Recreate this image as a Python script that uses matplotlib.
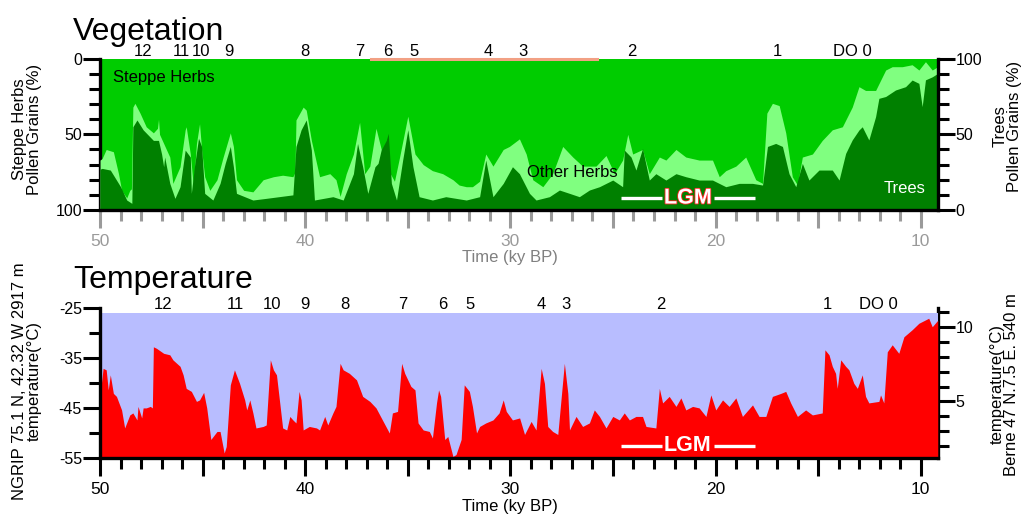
import matplotlib
matplotlib.use("Agg")
import matplotlib.pyplot as plt
import matplotlib.patheffects as pe
from matplotlib.ticker import MultipleLocator, FuncFormatter, FixedLocator

plt.rcParams["font.family"] = ["Liberation Sans", "DejaVu Sans"]

# ---- vegetation (pollen %), time in ky BP ----
tree_time = [50.0, 49.9, 49.5, 49.3, 49.0, 48.7, 48.45, 48.4, 48.2, 47.9, 47.4, 47.15, 47.0, 46.9,
             46.85, 46.6, 46.35, 46.1, 45.85, 45.6, 45.55, 45.4, 45.2, 45.05, 44.9, 44.5, 44.15,
             43.9, 43.65, 43.5, 43.35, 42.55, 41.9, 40.6, 40.45, 40.2, 39.95, 39.7, 39.55, 38.65,
             38.15, 37.65, 37.45, 37.2, 36.95, 36.6, 36.45, 36.3, 36.05, 35.95, 35.8, 35.55, 35.25,
             35.0, 34.75, 34.45, 33.8, 33.15, 32.15, 31.5, 31.2, 30.85, 30.35, 29.9, 29.56, 29.07,
             28.75, 28.1, 27.61, 27.12, 26.64, 26.15, 25.66, 25.01, 24.53, 24.45, 24.12, 23.88,
             23.56, 23.23, 22.91, 22.42, 21.93, 21.45, 20.8, 20.15, 19.5, 18.85, 18.2, 17.71, 17.47,
             17.07, 16.74, 16.42, 16.09, 15.77, 15.45, 14.96, 14.31, 13.98, 13.66, 13.34, 13.01,
             12.85, 12.53, 12.2, 12.04, 11.71, 11.23, 10.74, 10.42, 10.09, 9.93, 9.77, 9.44, 9.17]
tree_pct = [27, 27.5, 26.4, 22, 15.4, 6.6, 4.4, 55, 59.5, 53, 46, 46, 37, 28.6,
            35, 17.6, 7.7, 15.4, 39.6, 35, 11, 28.6, 47.4, 42, 11, 6.6, 17.6,
            30.8, 42, 28.6, 11, 6.6, 7.7, 10, 42, 53, 59.5, 39.6, 6.6, 8.8,
            6.6, 24, 44, 28.6, 11, 28.6, 30.8, 39.6, 46, 50.7, 17.6, 6.6, 33,
            53, 28.6, 8.8, 6.6, 8.8, 6.6, 8.8, 33, 8.8, 17.6, 28.6, 24, 11,
            6.6, 8.8, 13.2, 11, 8.8, 13.2, 15.4, 19.8, 15.4, 39.6, 35, 26.4,
            40.7, 19.8, 24, 19.8, 24, 22, 19.8, 19.8, 15.4, 17.6, 17.6, 16.5, 42,
            44, 42, 24, 15.4, 30.8, 19.8, 26.4, 26.4, 19.8, 37.4, 46.3, 52.9,
            55, 46.3, 61.7, 73.8, 75, 79.3, 81.5, 85.9, 83.7, 68.3, 86, 88, 90.3]

# trees + other herbs (upper edge of the light band)
herb_time = [50.0, 49.9, 49.7, 49.35, 49.1, 48.95, 48.7, 48.55, 48.47, 48.4, 48.3, 48.05, 47.75,
             47.4, 47.2, 47.15, 47.1, 46.9, 46.6, 46.45, 46.1, 45.85, 45.8, 45.6, 45.45, 45.3,
             45.15, 45.05, 44.9, 44.65, 44.3, 44.0, 43.65, 43.5, 43.35, 43.0, 42.55, 42.05, 41.55,
             41.1, 40.6, 40.5, 40.45, 40.1, 39.95, 39.7, 39.3, 38.8, 38.5, 38.3, 38.0, 37.65,
             37.35, 37.1, 36.85, 36.55, 36.2, 36.05, 35.65, 35.4, 35.0, 34.65, 34.25, 33.8, 33.3,
             32.8, 32.5, 32.15, 31.85, 31.5, 31.2, 30.85, 30.35, 30.05, 29.56, 29.23, 28.91,
             28.42, 27.94, 27.45, 26.96, 26.48, 25.83, 25.34, 24.93, 24.53, 24.28, 24.04, 23.56,
             23.23, 22.74, 22.42, 21.93, 21.45, 20.8, 20.15, 19.82, 19.5, 19.01, 18.53, 18.04,
             17.71, 17.5, 17.23, 16.9, 16.58, 16.26, 16.01, 15.77, 15.28, 14.8, 14.31, 13.82,
             13.34, 13.01, 12.69, 12.2, 11.71, 11.39, 10.9, 10.42, 10.09, 9.77, 9.44, 9.17]
herb_top = [33, 34, 40, 38.5, 24, 13, 8, 13, 14, 68, 70.5, 64, 55,
            51, 54, 60, 50, 44, 35, 17.6, 28.6, 53, 55, 37, 15.4, 44,
            57, 40, 22, 13, 20, 35, 51, 42, 20, 13, 12, 20, 22,
            23, 22, 25, 59.5, 68, 66, 46, 22, 24, 20, 9, 24, 37,
            58, 24, 29, 54, 35, 29, 19, 35, 62, 37, 30, 26, 24,
            20, 16.5, 15.4, 15.4, 19, 37, 29, 40, 42, 47, 37, 20,
            15.4, 24, 42, 35, 29, 29, 36, 24, 33, 50, 37, 40,
            24, 35, 33, 40, 35, 33, 33, 22, 26, 29, 35, 20,
            17.6, 64, 70.5, 69, 51, 22, 16.5, 35, 37, 46, 53, 55,
            68, 81.5, 79, 79, 92.5, 94.7, 94.7, 96, 92.5, 98, 92.5, 94.7]

# ---- NGRIP temperature (deg C) ----
temp_time = [50.0, 49.95, 49.85, 49.7, 49.6, 49.5, 49.35, 49.2, 48.95, 48.8, 48.55, 48.4, 48.2,
             48.15, 47.97, 47.9, 47.75, 47.55, 47.45, 47.4, 47.25, 46.9, 46.6, 46.45, 46.1, 45.95,
             45.8, 45.55, 45.3, 45.15, 44.95, 44.8, 44.6, 44.3, 44.15, 43.95, 43.85, 43.65, 43.45,
             43.2, 42.95, 42.85, 42.7, 42.55, 42.4, 42.05, 41.9, 41.7, 41.55, 41.4, 41.25, 41.1,
             40.9, 40.75, 40.6, 40.45, 40.3, 40.2, 40.1, 39.8, 39.45, 39.3, 39.05, 38.9, 38.65,
             38.5, 38.3, 38.15, 37.85, 37.5, 37.2, 36.85, 36.55, 36.2, 35.9, 35.75, 35.5, 35.3,
             35.15, 34.85, 34.65, 34.5, 34.25, 33.95, 33.8, 33.6, 33.5, 33.4, 33.2, 33.05, 32.8,
             32.65, 32.4, 32.25, 32.0, 31.85, 31.65, 31.5, 31.2, 30.85, 30.55, 30.35, 30.2, 29.9,
             29.55, 29.31, 28.99, 28.75, 28.5, 28.34, 28.18, 27.94, 27.69, 27.37, 27.2, 27.12,
             26.8, 26.48, 26.15, 25.91, 25.66, 25.34, 25.01, 24.69, 24.45, 24.2, 23.88, 23.56,
             23.39, 22.91, 22.74, 22.58, 22.26, 21.93, 21.69, 21.45, 21.12, 20.8, 20.47, 20.23,
             19.99, 19.66, 19.34, 19.01, 18.69, 18.2, 17.88, 17.55, 17.23, 16.82, 16.58, 16.34,
             16.01, 15.61, 15.28, 14.8, 14.67, 14.47, 14.31, 14.15, 14.07, 13.9, 13.66, 13.5,
             13.26, 13.09, 12.85, 12.69, 12.53, 12.04, 11.96, 11.8, 11.63, 11.39, 11.07, 10.82,
             10.42, 10.09, 9.61, 9.44, 9.17]
temp_ngrip = [-41.0, -40.7, -37.1, -37.4, -41.4, -38.4, -42.1, -42.7, -45.4, -49.0, -46.4, -46.0, -47.4,
              -44.7, -47.0, -45.0, -45.0, -44.7, -45.0, -32.8, -33.1, -34.1, -34.4, -35.4, -36.7, -38.4,
              -41.1, -41.7, -43.7, -43.4, -41.9, -45.0, -51.3, -49.7, -49.7, -54.0, -52.7, -40.4, -37.4,
              -40.1, -43.4, -45.4, -43.4, -46.0, -49.0, -48.7, -48.4, -35.4, -37.4, -38.4, -43.7, -49.0,
              -49.4, -46.7, -47.4, -48.0, -41.7, -43.4, -49.4, -48.7, -49.0, -49.4, -46.7, -48.4, -46.0,
              -44.7, -36.1, -37.4, -38.1, -39.4, -42.7, -43.7, -45.0, -47.7, -50.0, -46.0, -45.7, -36.1,
              -38.1, -40.7, -41.4, -48.0, -49.4, -49.7, -51.0, -44.0, -41.4, -42.7, -51.3, -50.7, -54.7,
              -54.3, -51.3, -40.4, -41.7, -44.7, -50.0, -48.7, -48.0, -47.4, -46.0, -43.4, -45.7, -47.4,
              -47.0, -50.3, -47.7, -49.4, -37.1, -40.1, -48.7, -49.7, -50.3, -36.1, -42.1, -49.4,
              -46.7, -48.7, -48.0, -45.4, -46.7, -49.0, -46.7, -47.4, -46.0, -47.4, -46.7, -46.7,
              -48.7, -49.0, -41.1, -44.0, -42.7, -44.7, -43.0, -45.4, -44.7, -45.0, -46.7, -42.4,
              -45.4, -43.4, -44.7, -43.0, -46.7, -44.4, -46.7, -46.7, -42.7, -42.1, -41.7, -44.0,
              -46.7, -45.4, -46.4, -46.0, -33.4, -34.4, -36.7, -38.1, -41.1, -35.4, -36.7, -37.4,
              -40.1, -41.1, -38.4, -42.7, -44.0, -43.7, -42.4, -44.0, -33.8, -32.4, -34.1, -30.8,
              -29.4, -28.1, -27.1, -28.8, -27.5]

# Dansgaard-Oeschger event labels
do_labels = ["12", "11", "10", "9", "8", "7", "6", "5", "4", "3", "2", "1", "DO 0"]
do_veg_time = [47.9, 46.05, 45.1, 43.7, 40.0, 37.35, 36.0, 34.7, 31.1, 29.4, 24.1, 17.0, 13.35]
do_temp_time = [46.93, 43.38, 41.63, 40.02, 38.08, 35.26, 33.3, 31.95, 28.5, 27.3, 22.65, 14.53, 12.05]

ngrip_ticks = [-55, -45, -35, -25]

lgm_start, lgm_end = 24.6, 18.1
x_right = 9.17

GREY_TICK = "#9a9a9a"
GREY_LABEL = "#808080"


def ten_only(v, pos):
    return "%d" % v if abs(v % 10) < 1e-6 else ""


def style_x(ax, color):
    ax.set_xlim(50, x_right)
    ax.xaxis.set_major_locator(MultipleLocator(5))
    ax.xaxis.set_minor_locator(MultipleLocator(1))
    ax.xaxis.set_major_formatter(FuncFormatter(ten_only))
    ax.tick_params(axis="x", which="major", length=13, width=2.2, color=color,
                   labelcolor=color, labelsize=12.5, pad=4, direction="out")
    ax.tick_params(axis="x", which="minor", length=8, width=2.2, color=color, direction="out")
    ax.spines["top"].set_visible(False)
    ax.spines["bottom"].set_linewidth(2.4)


def style_y(axis_obj, which_side):
    axis_obj.tick_params(axis="y", which="major", length=12, width=2.2, labelsize=11.5,
                         pad=1, direction="out")
    axis_obj.tick_params(axis="y", which="minor", length=8, width=2.2, direction="out")
    axis_obj.spines[which_side].set_linewidth(2.4)


def lgm_marker(ax, y, outline):
    ax.plot([lgm_start, 22.6], [y, y], color="white", lw=2.4, solid_capstyle="butt")
    ax.plot([20.1, lgm_end], [y, y], color="white", lw=2.4, solid_capstyle="butt")
    txt = ax.text((lgm_start + lgm_end) / 2, y, "LGM", color="white", fontsize=15.5,
                  fontweight="bold", ha="center", va="center")
    if outline:
        txt.set_path_effects([pe.withStroke(linewidth=1.2, foreground="#ff2020")])


fig = plt.figure(figsize=(10.26, 5.17), dpi=100)

# ------------------------------------------------------------ vegetation
ax_v = fig.add_axes([0.0975, 0.5938, 0.8165, 0.2927])
ax_v.set_facecolor("#00CC00")
ax_v.fill_between(herb_time, 0, herb_top, color="#80FF80", lw=0)
ax_v.fill_between(tree_time, 0, tree_pct, color="#008000", lw=0)
ax_v.set_ylim(0, 100)
style_x(ax_v, GREY_TICK)
ax_v.yaxis.tick_right()
ax_v.yaxis.set_major_locator(MultipleLocator(50))
ax_v.yaxis.set_minor_locator(MultipleLocator(10))
style_y(ax_v, "right")
ax_v.spines["left"].set_visible(False)

steppe = ax_v.secondary_yaxis("left", functions=(lambda p: 100 - p, lambda s: 100 - s))
steppe.yaxis.set_major_locator(MultipleLocator(50))
steppe.yaxis.set_minor_locator(MultipleLocator(10))
style_y(steppe, "left")

ax_v.plot([36.8, 25.8], [100, 100], color="#F2A084", lw=2.2, clip_on=False, zorder=5)

ax_v.text(49.37, 87.6, "Steppe Herbs", fontsize=12, va="center", ha="left")
ax_v.text(29.2, 24.5, "Other Herbs", fontsize=12, va="center", ha="left")
ax_v.text(11.8, 14.5, "Trees", fontsize=12, color="white", va="center", ha="left")
lgm_marker(ax_v, 7.9, True)

for lab, t in zip(do_labels, do_veg_time):
    ax_v.text(t, 1.018, lab, fontsize=12, ha="center", va="baseline",
              transform=ax_v.get_xaxis_transform())

ax_v.text(30.0, -0.317, "Time (ky BP)", fontsize=12, color=GREY_LABEL, ha="center",
          va="center", transform=ax_v.get_xaxis_transform())

# ------------------------------------------------------------ temperature
ax_t = fig.add_axes([0.0975, 0.1141, 0.8165, 0.2907])
ax_t.axhspan(-55, -26.1, color="#B8BDFF", lw=0)
ax_t.fill_between(temp_time, -55, temp_ngrip, color="#FF0000", lw=0)
ax_t.set_ylim(-55, -25)
style_x(ax_t, "black")
ax_t.yaxis.set_major_locator(FixedLocator(ngrip_ticks))
ax_t.yaxis.set_minor_locator(MultipleLocator(5))
ax_t.yaxis.set_major_formatter(FuncFormatter(lambda v, p: "%d" % v))
style_y(ax_t, "left")
ax_t.spines["right"].set_visible(False)

slope, offset = 0.335, 19.645
berne = ax_t.secondary_yaxis("right", functions=(lambda t: slope * t + offset,
                                                 lambda b: (b - offset) / slope))
berne.yaxis.set_major_locator(MultipleLocator(5))
berne.yaxis.set_minor_locator(MultipleLocator(1))
style_y(berne, "right")

lgm_marker(ax_t, -52.6, False)

for lab, t in zip(do_labels, do_temp_time):
    ax_t.text(t, 0.99, lab, fontsize=12, ha="center", va="baseline",
              transform=ax_t.get_xaxis_transform())

ax_t.text(30.0, -0.324, "Time (ky BP)", fontsize=12, ha="center", va="center",
          transform=ax_t.get_xaxis_transform())

# ------------------------------------------------------------ titles and side labels
fig.text(0.0711, 0.923, "Vegetation", fontsize=23, va="baseline")
fig.text(0.0711, 0.4435, "Temperature", fontsize=23, va="baseline")

fig.text(0.0263, 0.7505, "Steppe Herbs\nPollen Grains (%)", fontsize=12, rotation=90,
         ha="center", va="center", linespacing=0.95, multialignment="center")
fig.text(0.9815, 0.7563, "Trees\nPollen Grains (%)", fontsize=12, rotation=90,
         ha="center", va="center", linespacing=0.95, multialignment="center")
fig.text(0.0263, 0.263, "NGRIP 75.1 N, 42.32 W 2917 m\ntemperature(°C)", fontsize=12,
         rotation=90, ha="center", va="center", linespacing=0.95, multialignment="center")
fig.text(0.979, 0.257, "temperature(°C)\nBerne 47 N.7.5 E. 540 m", fontsize=12,
         rotation=90, ha="center", va="center", linespacing=0.95, multialignment="center")

fig.savefig("out.png", dpi=100)
